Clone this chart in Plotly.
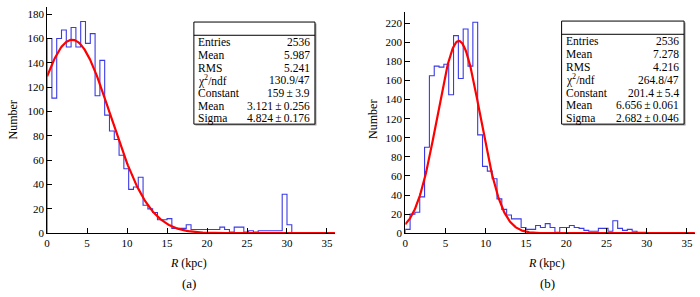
import numpy as np
import plotly.graph_objects as go

# ---------------- data ----------------
bin_width = 0.6
n_bins = 60
x_max = 36

counts_a = [160, 111, 160, 167, 153, 169, 153, 174, 156, 164,
            113, 142, 97, 84, 77, 64, 53, 36, 38, 46,
            23, 20, 17, 11, 11, 12, 4, 4, 4, 7,
            3, 3, 3, 3, 3, 3, 5, 3, 1, 5,
            5, 1, 2, 1, 2, 2, 2, 2, 2, 32,
            7, 0, 0, 0, 0, 0, 0, 0, 0, 0]

counts_b = [4, 20, 22, 38, 90, 165, 175, 174, 177, 145,
            207, 162, 214, 175, 221, 103, 70, 65, 57, 36,
            25, 19, 15, 15, 6, 4, 4, 8, 6, 10,
            6, 1, 6, 6, 8, 6, 5, 3, 2, 2,
            5, 5, 2, 13, 5, 3, 4, 2, 1, 1,
            0, 0, 0, 0, 0, 0, 0, 0, 0, 0]

# fit parameters (Gaussian): constant, mean, sigma
fit_a = [159.0, 3.121, 4.824]
fit_b = [201.4, 6.656, 2.682]

stat_labels = ["Entries", "Mean", "RMS", "\u03c7<sup>2</sup>/ndf", "Constant", "Mean", "Sigma"]
stat_values_a = ["2536", "5.987", "5.241", "130.9/47", "159\u2009\u00b1\u20093.9",
                 "3.121\u2009\u00b1\u20090.256", "4.824\u2009\u00b1\u20090.176"]
stat_values_b = ["2536", "7.278", "4.216", "264.8/47", "201.4\u2009\u00b1\u20095.4",
                 "6.656\u2009\u00b1\u20090.061", "2.682\u2009\u00b1\u20090.046"]

y_max_a = 186
y_max_b = 232
panel_labels = ["(a)", "(b)"]

# ---------------- figure ----------------
W, H = 700, 297
def px(x):
    return x / W
def py(y):
    return 1 - y / H

FONT = "Liberation Serif, Times New Roman, serif"
edges = np.arange(n_bins + 1) * bin_width
xf = np.linspace(0, x_max, 400)

fig = go.Figure()

def add_panel(counts, fit, xa, ya):
    xs = [0.0] + edges[:-1].tolist() + [float(edges[-1])]
    ys = [0] + list(counts) + [counts[-1]]
    fig.add_trace(go.Scatter(x=xs, y=ys, mode="lines", line_shape="hv",
                             line=dict(color="#3a3ae6", width=1.1),
                             xaxis=xa, yaxis=ya, showlegend=False, hoverinfo="skip"))
    c, m, s = fit
    fig.add_trace(go.Scatter(x=xf, y=c * np.exp(-0.5 * ((xf - m) / s) ** 2), mode="lines",
                             line=dict(color="#ff0000", width=2.2),
                             xaxis=xa, yaxis=ya, showlegend=False, hoverinfo="skip"))

add_panel(counts_a, fit_a, "x", "y")
add_panel(counts_b, fit_b, "x2", "y2")

axis_common = dict(showline=True, linecolor="black", linewidth=1, mirror=False,
                   showgrid=False, zeroline=False, ticks="inside", ticklen=5,
                   tickcolor="black", tickwidth=1,
                   tickfont=dict(family=FONT, size=11, color="black"))

fig.update_layout(
    width=W, height=H, margin=dict(l=0, r=0, t=0, b=0),
    paper_bgcolor="white", plot_bgcolor="white",
    xaxis=dict(domain=[px(44.3), px(333.4)], range=[0, x_max], dtick=5, tick0=0,
               anchor="y", **axis_common),
    yaxis=dict(domain=[py(238), py(7)], range=[0, y_max_a], dtick=20, tick0=0,
               anchor="x", **axis_common),
    xaxis2=dict(domain=[px(404), px(694.9)], range=[0, x_max], dtick=5, tick0=0,
                anchor="y2", **axis_common),
    yaxis2=dict(domain=[py(238), py(12)], range=[0, y_max_b], dtick=20, tick0=0,
                anchor="x2", **axis_common),
)

ann = []
shapes = []

def titles(cx_x, cy_num_x, lab):
    ann.append(dict(x=px(cx_x), y=py(268), xref="paper", yref="paper", text="<i>R</i> (kpc)",
                    showarrow=False, xanchor="center", yanchor="middle",
                    font=dict(family=FONT, size=12, color="black")))
    ann.append(dict(x=px(cx_x + 1), y=py(289), xref="paper", yref="paper", text=lab,
                    showarrow=False, xanchor="center", yanchor="middle",
                    font=dict(family=FONT, size=13, color="black")))
    ann.append(dict(x=px(cy_num_x), y=py(122), xref="paper", yref="paper", text="Number",
                    showarrow=False, xanchor="center", yanchor="middle", textangle=-90,
                    font=dict(family=FONT, size=12, color="black")))

titles(186, 10, panel_labels[0])
titles(546, 371, panel_labels[1])

def stats_box(x0, x1, y0, y1, yh, values):
    # shadow
    shapes.append(dict(type="rect", xref="paper", yref="paper",
                       x0=px(x0 + 1.5), x1=px(x1 + 1.5), y0=py(y1 + 1.5), y1=py(y0 + 1.5),
                       line=dict(width=0), fillcolor="#9a9a9a", layer="above"))
    shapes.append(dict(type="rect", xref="paper", yref="paper",
                       x0=px(x0), x1=px(x1), y0=py(y1), y1=py(y0),
                       line=dict(color="black", width=1), fillcolor="white", layer="above"))
    shapes.append(dict(type="line", xref="paper", yref="paper",
                       x0=px(x0), x1=px(x1), y0=py(yh), y1=py(yh),
                       line=dict(color="black", width=1), layer="above"))
    n = len(stat_labels)
    step = (y1 - yh) / n
    for i, (lab, val) in enumerate(zip(stat_labels, values)):
        yc = yh + step * (i + 0.5) + 0.5
        ann.append(dict(x=px(x0 + 2.5), y=py(yc), xref="paper", yref="paper", text=lab,
                        showarrow=False, xanchor="left", yanchor="middle",
                        font=dict(family=FONT, size=11.5, color="black")))
        ann.append(dict(x=px(x1 - 3), y=py(yc), xref="paper", yref="paper", text=val,
                        showarrow=False, xanchor="right", yanchor="middle",
                        font=dict(family=FONT, size=11.5, color="black")))

stats_box(191.7, 313.3, 22.5, 126.7, 36, stat_values_a)
stats_box(561, 684, 21.5, 126.7, 35, stat_values_b)

fig.update_layout(annotations=ann, shapes=shapes)
fig.write_html("out.html", config={"displayModeBar": False},
               post_script="document.body.style.margin='0';document.body.style.overflow='hidden';")
